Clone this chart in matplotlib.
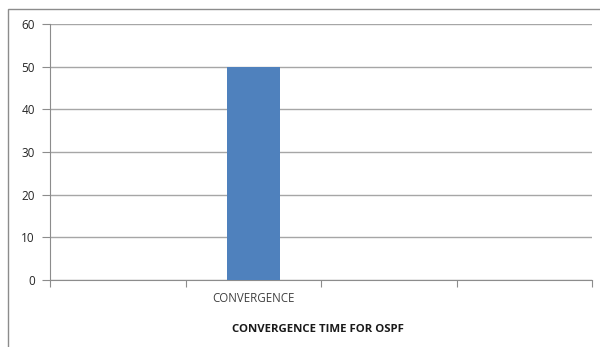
import matplotlib.pyplot as plt
from matplotlib.patches import Rectangle

# convergence time per category (only one measured)
categories = ['', 'CONVERGENCE', '', '']
values = [0, 50, 0, 0]
y_ticks = [0, 10, 20, 30, 40, 50, 60]
title = 'CONVERGENCE TIME FOR OSPF'

plt.rcParams['font.family'] = ['Open Sans', 'DejaVu Sans']

fig = plt.figure(figsize=(6, 3.47), dpi=100)
ax = fig.add_axes([50 / 600, 1 - 280 / 347, 542 / 600, 256 / 347])

# chart area border
fig.patches.append(Rectangle((8 / 600, -0.1), 1.0, 1 - 9 / 347 + 0.1,
                             transform=fig.transFigure, fill=False,
                             edgecolor='#8c8c8c', linewidth=1.0))

x = range(len(categories))
ax.bar(x, values, width=0.39, color='#4f81bd', zorder=3)

ax.set_xlim(-0.5, len(categories) - 0.5)
ax.set_ylim(0, 60)
ax.set_yticks(y_ticks)
ax.yaxis.grid(True, color='#a6a6a6', linewidth=1.0, zorder=0)
ax.set_axisbelow(True)

# category ticks sit on slot boundaries, labels in slot centers
ax.set_xticks([i - 0.5 for i in range(len(categories) + 1)])
ax.set_xticklabels([])
ax.set_xticks(list(x), minor=True)
ax.set_xticklabels(categories, minor=True, fontsize=8.3, color='#404040')
ax.tick_params(axis='x', which='major', length=5, color='#8c8c8c', direction='out')
ax.tick_params(axis='x', which='minor', length=0, pad=9)
ax.tick_params(axis='y', length=6, color='#8c8c8c', labelsize=8.5,
               labelcolor='#262626', pad=5)

for side in ['top', 'right']:
    ax.spines[side].set_visible(False)
for side in ['left', 'bottom']:
    ax.spines[side].set_color('#8c8c8c')

ax.set_xlabel(title, fontsize=8.2, fontweight='bold', color='#1a1a1a')
ax.xaxis.set_label_coords(268 / 542, -(324 - 280) / 256)

fig.savefig('out.png', dpi=100)
